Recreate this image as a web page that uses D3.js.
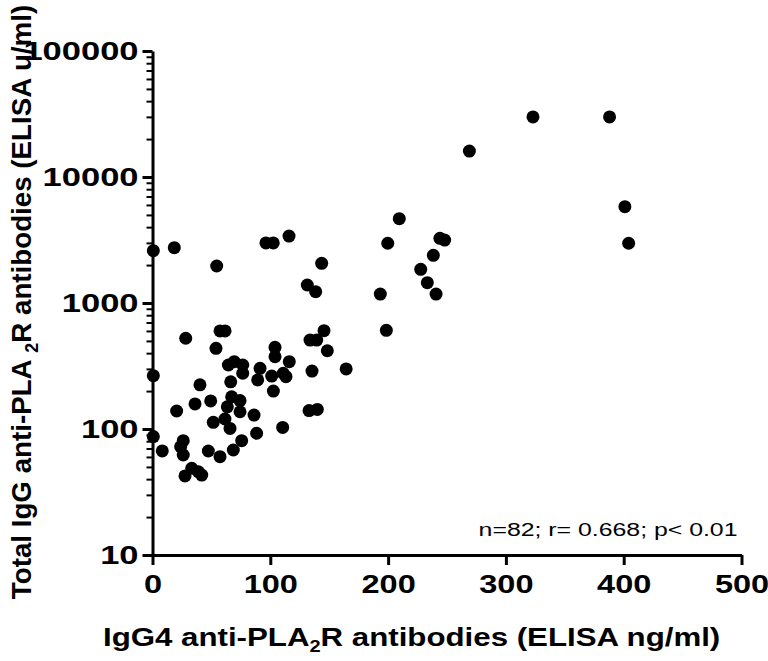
<!DOCTYPE html>
<html>
<head>
<meta charset="utf-8">
<script src="https://cdn.jsdelivr.net/npm/d3@7"></script>
<style>
  body { margin: 0; background: #fff; }
  svg { font-family: "Liberation Sans", Arial, sans-serif; }
</style>
</head>
<body>
<svg id="chart"></svg>
<script>
// IgG4 (ng/ml) vs total IgG (u/ml)
const igg4 = [323, 388, 269, 209.5, 199.7, 143.6, 131.4, 138.5, 193.4, 198.5,
  145.6, 133.7, 139.4, 148.4, 244, 248, 238.4, 227.7, 233.3, 240.7,
  401, 404.2, 0.7, 18.5, 54.5, 28.2, 57.3, 61.6, 53.9, 96.3,
  102.5, 115.9, 104, 104, 64.4, 69.4, 76.6, 76.6, 91.3, 0.7,
  66.4, 40.3, 36.1, 49.4, 67.2, 74.3, 63.5, 74.3, 86.2, 20.5,
  51.6, 61.5, 65.8, 0.7, 75.7, 88.4, 8.3, 26.1, 23.9, 26.1,
  47.4, 68.6, 57.3, 116.1, 101.2, 111, 113.3, 89.3, 135.4, 102.6,
  132.9, 139.9, 110.5, 33.3, 38.9, 27.6, 41.8, 164.4]
const totalIgg = [30000, 30000, 16070, 4670, 2980, 2066, 1389, 1230, 1178, 607,
  603, 508, 508, 418, 3260, 3160, 2390, 1850, 1449, 1178,
  5810, 2980, 2600, 2748, 1967, 525, 600, 600, 437, 3000,
  3000, 3400, 445, 375, 322, 342, 322, 277, 303, 265,
  237, 224, 158, 167, 180, 168, 150, 137, 129, 139,
  113, 120, 101, 87, 80.8, 92.5, 67, 80.8, 72.4, 62.2,
  66.9, 68.1, 60.3, 342, 263, 277, 260, 245, 288, 200,
  140, 143, 103, 48.8, 45.8, 42.4, 43.1, 300]
const xTicks = [0, 100, 200, 300, 400, 500]
const yTicks = [10, 100, 1000, 10000, 100000]
const statsText = 'n=82; r= 0.668; p< 0.01'

const W = 768, H = 661
const margin = { top: 51, right: 26.5, bottom: 106, left: 152.5 }
const width = W - margin.left - margin.right
const height = H - margin.top - margin.bottom
const FONT = '"Liberation Sans", Arial, sans-serif'

const svg = d3.select('#chart').attr('width', W).attr('height', H)
const g = svg.append('g').attr('transform', `translate(${margin.left},${margin.top})`)

const x = d3.scaleLinear().domain([0, 500]).range([0, width])
const y = d3.scaleLog().domain([10, 100000]).range([height, 0])

// minor ticks on log axis
const minor = []
for (let d = 10; d < 100000; d *= 10) {
  for (let k = 2; k <= 9; k++) minor.push(d * k)
}

g.append('g')
  .attr('class', 'y-minor')
  .call(d3.axisLeft(y).tickValues(minor).tickSize(6).tickFormat(''))
  .call(s => s.select('.domain').remove())
  .selectAll('line').attr('stroke', '#000').attr('stroke-width', 2)

const yAxis = g.append('g')
  .call(d3.axisLeft(y).tickValues(yTicks).tickSize(10).tickSizeOuter(0).tickFormat(d3.format('d')))
const xAxis = g.append('g')
  .attr('transform', `translate(0,${height})`)
  .call(d3.axisBottom(x).tickValues(xTicks).tickSize(10).tickSizeOuter(0))

;[xAxis, yAxis].forEach(a => {
  a.select('.domain').attr('stroke', '#000').attr('stroke-width', 3)
  a.selectAll('.tick line').attr('stroke', '#000').attr('stroke-width', 3)
  a.selectAll('.tick text')
    .attr('fill', '#000')
    .style('font-size', '25px')
    .style('font-weight', 'bold')
    .style('font-family', FONT)
})
// the original figure is stretched sideways
yAxis.selectAll('.tick text').attr('x', null).attr('transform', 'translate(-14,0) scale(1.38,1)')
xAxis.selectAll('.tick text').attr('y', null).attr('dy', null)
  .attr('transform', 'translate(0,38) scale(1.3,1)')

g.selectAll('circle')
  .data(igg4.map((v, i) => [v, totalIgg[i]]))
  .enter()
  .append('circle')
  .attr('cx', d => x(d[0]))
  .attr('cy', d => y(d[1]))
  .attr('r', 6.5)
  .attr('fill', '#000')

g.append('text')
  .attr('transform', `translate(${width - 4},${height - 19}) scale(1.38,1)`)
  .attr('text-anchor', 'end')
  .style('font-size', '18px')
  .text(statsText)

// axis titles
const xTitle = svg.append('text')
  .attr('transform', 'translate(103,646) scale(1.25,1)')
  .style('font-size', '25px')
  .style('font-weight', 'bold')
xTitle.append('tspan').text('IgG4 anti-PLA')
xTitle.append('tspan').attr('dy', 6).style('font-size', '16px').text('2')
xTitle.append('tspan').attr('dy', -6).text('R antibodies (ELISA ng/ml)')

const yTitle = svg.append('text')
  .attr('transform', 'translate(31,302) rotate(-90) scale(1.11,1.1)')
  .attr('text-anchor', 'middle')
  .style('font-size', '25px')
  .style('font-weight', 'bold')
yTitle.append('tspan').text('Total IgG anti-PLA ')
yTitle.append('tspan').attr('dy', 6).style('font-size', '16px').text('2')
yTitle.append('tspan').attr('dy', -6).text('R antibodies (ELISA u/ml)')
</script>
</body>
</html>
